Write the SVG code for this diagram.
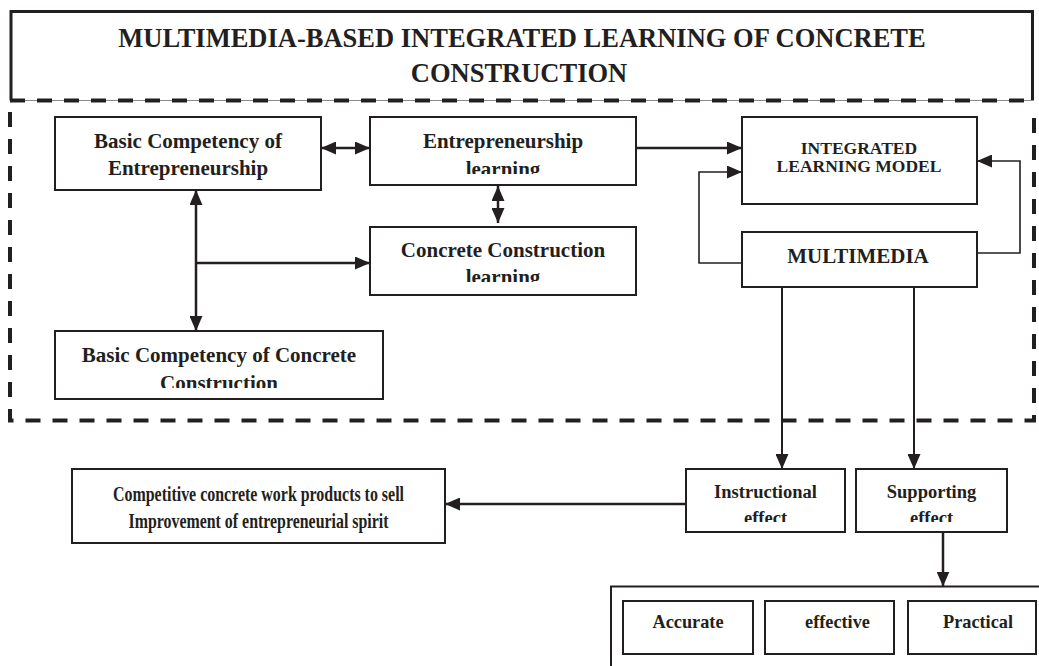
<svg xmlns="http://www.w3.org/2000/svg" width="1039" height="666" viewBox="0 0 1039 666">
<defs>
<style>
.box{fill:#fff;stroke:#231f20;stroke-width:2}
.t{font-family:'Liberation Serif','Times New Roman',Times,'DejaVu Serif',serif;font-weight:700;fill:#231f20;text-anchor:middle}
.c{fill:none;stroke:#231f20;stroke-width:2.5}
.m{fill:none;stroke:#231f20;stroke-width:2}
.thin{fill:none;stroke:#231f20;stroke-width:1.6}
.dash{fill:none;stroke:#231f20;stroke-width:4;stroke-dasharray:15 12}
</style>
<marker id="ah" viewBox="0 0 15 13" refX="15" refY="6.5" markerWidth="15" markerHeight="13" markerUnits="userSpaceOnUse" orient="auto-start-reverse"><path d="M0,0L15,6.5L0,13z" fill="#231f20"/></marker>
<clipPath id="cEL"><rect x="370" y="100" width="266" height="74"/></clipPath>
<clipPath id="cCC"><rect x="370" y="230" width="266" height="52"/></clipPath>
<clipPath id="cBC"><rect x="55" y="335" width="328" height="53"/></clipPath>
<clipPath id="cIE"><rect x="600" y="470" width="430" height="52"/></clipPath>
</defs>

<g id="title">
<path d="M11,100.5 V11.5 H1032.5 V100.5" fill="none" stroke="#231f20" stroke-width="3"/>
<line x1="11" y1="100.5" x2="1032" y2="100.5" stroke="#8a8a8a" stroke-width="1"/>
<text class="t" x="522" y="47" font-size="26.5">MULTIMEDIA-BASED INTEGRATED LEARNING OF CONCRETE</text>
<text class="t" x="519" y="82" font-size="26.5">CONSTRUCTION</text>
</g>

<g id="frame">
<path class="dash" d="M10,100.5 H1034"/>
<path class="dash" d="M10,112 V420.5 H1034 V112"/>
</g>

<g id="connectors">
<path class="c" d="M321,148 H370" marker-start="url(#ah)" marker-end="url(#ah)"/>
<path class="c" d="M498,186 V223" marker-start="url(#ah)" marker-end="url(#ah)"/>
<path class="c" d="M196,190 V331" marker-start="url(#ah)" marker-end="url(#ah)"/>
<path class="c" d="M196,263 H370" marker-end="url(#ah)"/>
<path class="c" d="M636,148 H742" marker-end="url(#ah)"/>
<path class="thin" d="M742,263 H699 V172 H742" marker-end="url(#ah)"/>
<path class="thin" d="M977,253 H1020 V161 H977" marker-end="url(#ah)"/>
<path class="m" d="M782,287 V469" marker-end="url(#ah)"/>
<path class="m" d="M914,287 V469" marker-end="url(#ah)"/>
<path class="c" d="M686,504 H445" marker-end="url(#ah)"/>
<path class="c" d="M943,532 V586.5" marker-end="url(#ah)"/>
</g>

<g id="bce">
<rect class="box" x="55" y="117" width="266" height="73"/>
<text class="t" x="188" y="148" font-size="21">Basic Competency of</text>
<text class="t" x="188" y="175" font-size="21">Entrepreneurship</text>
</g>

<g id="el">
<rect class="box" x="370" y="117" width="266" height="68"/>
<text class="t" x="503" y="148" font-size="21">Entrepreneurship</text>
<text class="t" x="503" y="176" font-size="21" clip-path="url(#cEL)">learning</text>
</g>

<g id="ccl">
<rect class="box" x="370" y="227" width="266" height="68"/>
<text class="t" x="503" y="257" font-size="21">Concrete Construction</text>
<text class="t" x="503" y="284" font-size="21" clip-path="url(#cCC)">learning</text>
</g>

<g id="bccc">
<rect class="box" x="55" y="331" width="328" height="68"/>
<text class="t" x="219" y="362" font-size="21">Basic Competency of Concrete</text>
<text class="t" x="219" y="390" font-size="21" clip-path="url(#cBC)">Construction</text>
</g>

<g id="ilm">
<rect class="box" x="742" y="117" width="235" height="87"/>
<text class="t" x="859" y="154" font-size="17.5">INTEGRATED</text>
<text class="t" x="859" y="172" font-size="17.5">LEARNING MODEL</text>
</g>

<g id="multimedia">
<rect class="box" x="742" y="232" width="235" height="55"/>
<text class="t" x="858" y="263" font-size="21">MULTIMEDIA</text>
</g>

<g id="instructional">
<rect class="box" x="686" y="469" width="159" height="63"/>
<text class="t" x="765.5" y="498" font-size="18.5">Instructional</text>
<text class="t" x="765.5" y="524" font-size="18.5" clip-path="url(#cIE)">effect</text>
</g>

<g id="supporting">
<rect class="box" x="856" y="469" width="151" height="63"/>
<text class="t" x="931.5" y="498" font-size="18.5">Supporting</text>
<text class="t" x="931.5" y="524" font-size="18.5" clip-path="url(#cIE)">effect</text>
</g>

<g id="competitive">
<rect class="box" x="72" y="469" width="373" height="74"/>
<text class="t" x="258.5" y="501" font-size="21" textLength="291" lengthAdjust="spacingAndGlyphs">Competitive concrete work products to sell</text>
<text class="t" x="258.5" y="528" font-size="21" textLength="260" lengthAdjust="spacingAndGlyphs">Improvement of entrepreneurial spirit</text>
</g>

<g id="criteria">
<rect class="box" x="611" y="586.5" width="440" height="100"/>
</g>
<g id="accurate">
<rect class="box" x="623" y="601" width="130" height="53"/>
<text class="t" x="688" y="628" font-size="18.3">Accurate</text>
</g>
<g id="effective">
<rect class="box" x="765" y="601" width="129" height="53"/>
<text class="t" x="837.5" y="628" font-size="18.3">effective</text>
</g>
<g id="practical">
<rect class="box" x="908" y="601" width="128" height="53"/>
<text class="t" x="978" y="628" font-size="18.3">Practical</text>
</g>
</svg>
